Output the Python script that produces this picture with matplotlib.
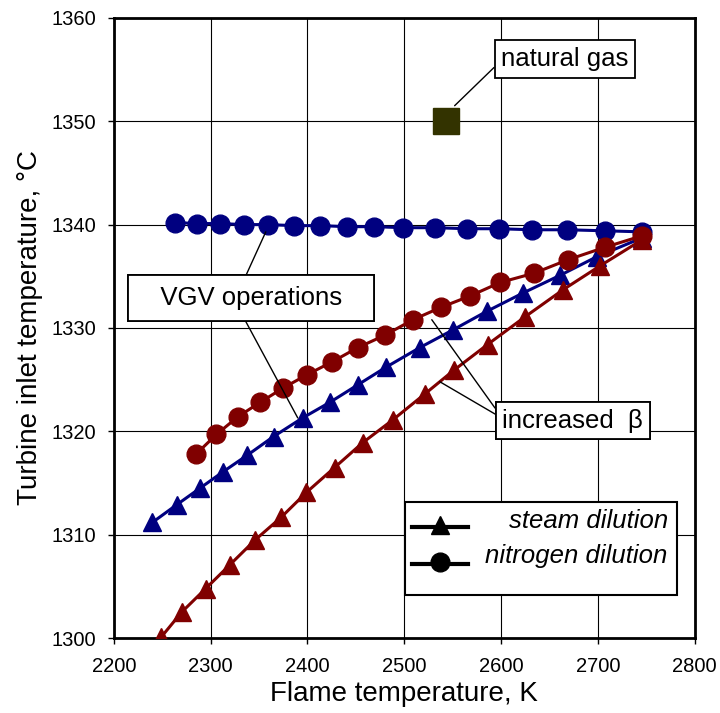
import matplotlib
matplotlib.use("Agg")
import matplotlib.pyplot as plt
from matplotlib.lines import Line2D
from matplotlib.patches import Rectangle

plt.rcParams["font.family"] = ["Liberation Sans", "DejaVu Sans"]

# VGV operation, nitrogen dilution
vgv_n2_flame = [2263, 2286, 2310, 2334, 2359, 2386, 2413, 2441, 2469, 2499,
                2532, 2565, 2598, 2632, 2668, 2707, 2745]
vgv_n2_tit = [1340.2, 1340.1, 1340.1, 1340.0, 1340.0, 1339.9, 1339.9, 1339.8,
              1339.8, 1339.7, 1339.7, 1339.6, 1339.6, 1339.5, 1339.5, 1339.4,
              1339.3]

# VGV operation, steam dilution
vgv_steam_flame = [2240, 2265, 2289, 2313, 2338, 2365, 2395, 2423, 2452, 2481,
                   2516, 2550, 2585, 2623, 2661, 2699, 2745]
vgv_steam_tit = [1311.2, 1312.9, 1314.5, 1316.1, 1317.7, 1319.5, 1321.3,
                 1322.8, 1324.5, 1326.2, 1328.1, 1329.8, 1331.6, 1333.4,
                 1335.1, 1336.9, 1338.7]

# increased pressure ratio, nitrogen dilution
beta_n2_flame = [2285, 2306, 2328, 2351, 2375, 2400, 2425, 2452, 2480, 2509,
                 2538, 2568, 2599, 2634, 2669, 2707, 2745]
beta_n2_tit = [1317.8, 1319.7, 1321.4, 1322.8, 1324.2, 1325.5, 1326.7, 1328.1,
               1329.3, 1330.8, 1332.0, 1333.1, 1334.4, 1335.3, 1336.6, 1337.8,
               1338.9]

# increased pressure ratio, steam dilution
beta_steam_flame = [2249, 2270, 2295, 2320, 2346, 2373, 2399, 2428, 2457, 2488,
                    2521, 2551, 2586, 2625, 2664, 2702, 2745]
beta_steam_tit = [1300.1, 1302.5, 1304.8, 1307.1, 1309.5, 1311.7, 1314.1,
                  1316.5, 1318.9, 1321.1, 1323.6, 1325.9, 1328.4, 1331.1,
                  1333.7, 1336.0, 1338.5]

# reference point
ng_flame = [2543]
ng_tit = [1350]

blue = "#000080"
red = "#800000"
lw = 2.2
ms = 13.5

fig = plt.figure(figsize=(7.2, 7.13), dpi=100)
ax = fig.add_axes([0.158, 0.105, 0.807, 0.870])

ax.plot(vgv_n2_flame, vgv_n2_tit, color=blue, lw=lw, marker="o", ms=ms, zorder=3)
ax.plot(vgv_steam_flame, vgv_steam_tit, color=blue, lw=lw, marker="^", ms=ms, zorder=3)
ax.plot(beta_n2_flame, beta_n2_tit, color=red, lw=lw, marker="o", ms=ms, zorder=4)
ax.plot(beta_steam_flame, beta_steam_tit, color=red, lw=lw, marker="^", ms=ms, zorder=4)
ax.plot(ng_flame, ng_tit, ls="none", marker="s", ms=19, color="#333300", zorder=4)

ax.set_xlim(2200, 2800)
ax.set_ylim(1300, 1360)
ax.set_xticks(range(2200, 2801, 100))
ax.set_yticks(range(1300, 1361, 10))
ax.grid(True, color="black", lw=0.8, zorder=1)
ax.set_axisbelow(True)
for s in ax.spines.values():
    s.set_linewidth(2.0)
ax.tick_params(direction="out", length=4.5, width=1, labelsize=14.5)
ax.tick_params(axis="x", pad=9)
ax.tick_params(axis="y", pad=8)

ax.set_xlabel("Flame temperature, K", fontsize=20, labelpad=4)
ax.set_ylabel("Turbine inlet temperature, °C", fontsize=20, labelpad=6)

box = dict(boxstyle="square,pad=0.26", fc="white", ec="black", lw=1.3)
line = dict(arrowstyle="-", color="black", lw=1, shrinkA=0, shrinkB=0)

ax.annotate("natural gas", xy=(2552, 1351.5), xytext=(2666, 1356.0),
            fontsize=18.5, ha="center", va="center", bbox=box,
            arrowprops=dict(line, relpos=(0, 0.45)), zorder=6)

vgv_box = dict(boxstyle="square,pad=0.42", fc="white", ec="black", lw=1.3)
ax.annotate("   VGV operations   ", xy=(2357, 1339.3), xytext=(2341.5, 1332.9),
            fontsize=18.5, ha="center", va="center", bbox=vgv_box,
            arrowprops=dict(line, relpos=(0.457, 1)), zorder=6)
ax.annotate("   VGV operations   ", xy=(2390, 1321.3), xytext=(2341.5, 1332.9),
            fontsize=18.5, ha="center", va="center", bbox=vgv_box,
            arrowprops=dict(line, relpos=(0.45, 0)), zorder=6)

ax.annotate("increased  β", xy=(2528.4, 1330.8), xytext=(2674, 1321.05),
            fontsize=18.5, ha="center", va="center", bbox=box,
            arrowprops=dict(line, relpos=(0, 0.59)), zorder=6)
ax.annotate("increased  β", xy=(2536.7, 1324.8), xytext=(2674, 1321.05),
            fontsize=18.5, ha="center", va="center", bbox=box,
            arrowprops=dict(line, relpos=(0, 0.59)), zorder=6)

# legend box with right-aligned italic labels
tr = ax.transAxes
ax.add_patch(Rectangle((0.501, 0.069), 0.468, 0.150, transform=tr,
                       fc="white", ec="black", lw=1.5, zorder=7))
ax.add_line(Line2D([0.513, 0.609], [0.179, 0.179], transform=tr, color="black",
                   lw=3, zorder=8))
ax.add_line(Line2D([0.561], [0.182], transform=tr, color="black", marker="^",
                   ms=ms, zorder=8))
ax.add_line(Line2D([0.513, 0.609], [0.119, 0.119], transform=tr, color="black",
                   lw=3, zorder=8))
ax.add_line(Line2D([0.561], [0.122], transform=tr, color="black", marker="o",
                   ms=ms, zorder=8))
ax.text(0.9535, 0.1774, "steam dilution", transform=tr, ha="right",
        va="baseline", fontsize=18.5, style="italic", zorder=9)
ax.text(0.9535, 0.121, "nitrogen dilution", transform=tr, ha="right",
        va="baseline", fontsize=18.5, style="italic", zorder=9)

fig.savefig("out.png", dpi=100)
